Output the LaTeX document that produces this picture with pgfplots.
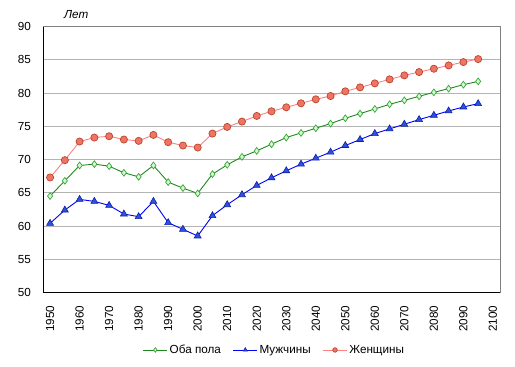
\documentclass[border=0pt]{standalone}
\usepackage{fontspec}
\setmainfont{Liberation Sans}
\usepackage{pgfplots}
\pgfplotsset{compat=1.18}
\definecolor{wline}{HTML}{FF8080}
\definecolor{wfill}{HTML}{F07466}
\definecolor{wedge}{HTML}{B8462A}
\definecolor{bline}{HTML}{1E8A1E}
\definecolor{bfill}{HTML}{CCFFCC}
\definecolor{bedge}{HTML}{3CA03C}
\definecolor{mline}{HTML}{0000FF}
\definecolor{mfill}{HTML}{2E50E0}
\definecolor{medge}{HTML}{10209A}
\definecolor{gridc}{HTML}{B4B4B4}
\begin{document}
\fontsize{11.7bp}{14bp}\selectfont
\begin{tikzpicture}
\path[use as bounding box] (-43bp,-74.5bp) rectangle (472bp,292.5bp);
\begin{axis}[
  name=ax,
  at={(0,0)}, anchor=south west,
  scale only axis, width=457bp, height=266bp,
  xmin=1947.6, xmax=2102.4, ymin=50, ymax=90,
  xtick={1950,1960,...,2100}, ytick={50,55,...,90},
  /pgf/number format/assume math mode=true,
  /pgf/number format/1000 sep={},
  xticklabel style={rotate=90, anchor=east, xshift=-9bp, font=\fontsize{11.7bp}{14bp}\selectfont},
  yticklabel style={xshift=-8bp, font=\fontsize{11.7bp}{14bp}\selectfont},
  major tick length=0pt,
  ymajorgrids, grid style={gridc, line width=0.8pt},
  axis line style={draw=gray, line width=0.8pt},
  legend columns=3,
  legend style={draw=none, fill=none, at={(0.5066,-0.216)}, anchor=center,
    font=\fontsize{11.7bp}{14bp}\selectfont, /tikz/every even column/.append style={column sep=10bp}},
  legend image code/.code={\draw[mark repeat=2,mark phase=2,#1,mark size=2.3pt] plot coordinates {(0cm,0cm)(0.42cm,0cm)(0.84cm,0cm)};},
]
\draw[black, line width=1pt] (rel axis cs:0,0) -- (rel axis cs:0,1);
\draw[black, line width=1pt] (rel axis cs:0,0) -- (rel axis cs:1,0);
\addplot[bline, line width=0.9pt, mark=diamond*, mark size=3.4pt, mark options={fill=bfill, draw=bedge, line width=0.7pt}] coordinates {
(1950,64.5)(1955,66.8)(1960,69.1)(1965,69.3)(1970,69.0)(1975,68.0)(1980,67.4)(1985,69.1)
(1990,66.6)(1995,65.7)(2000,64.9)(2005,67.8)(2010,69.2)(2015,70.4)(2020,71.3)(2025,72.3)
(2030,73.3)(2035,74.0)(2040,74.7)(2045,75.4)(2050,76.2)(2055,76.9)(2060,77.6)(2065,78.3)
(2070,78.9)(2075,79.5)(2080,80.1)(2085,80.65)(2090,81.25)(2095,81.75)};
\addlegendentry{Оба пола}
\addplot[mline, line width=0.9pt, mark=triangle*, mark size=4pt, mark options={fill=mfill, draw=medge, line width=0.6pt}] coordinates {
(1950,60.4)(1955,62.4)(1960,64.0)(1965,63.7)(1970,63.1)(1975,61.8)(1980,61.4)(1985,63.7)
(1990,60.5)(1995,59.5)(2000,58.5)(2005,61.55)(2010,63.2)(2015,64.7)(2020,66.1)(2025,67.25)
(2030,68.3)(2035,69.3)(2040,70.2)(2045,71.1)(2050,72.1)(2055,73.0)(2060,73.9)(2065,74.6)
(2070,75.3)(2075,76.0)(2080,76.65)(2085,77.3)(2090,77.9)(2095,78.4)};
\addlegendentry{Мужчины}
\addplot[wline, line width=0.9pt, mark=*, mark size=3.6pt, mark options={fill=wfill, draw=wedge, line width=0.7pt}] coordinates {
(1950,67.3)(1955,69.9)(1960,72.7)(1965,73.3)(1970,73.5)(1975,73.0)(1980,72.8)(1985,73.7)
(1990,72.6)(1995,72.1)(2000,71.8)(2005,73.9)(2010,74.9)(2015,75.7)(2020,76.55)(2025,77.25)
(2030,77.85)(2035,78.45)(2040,79.05)(2045,79.55)(2050,80.25)(2055,80.85)(2060,81.45)(2065,82.05)
(2070,82.65)(2075,83.15)(2080,83.65)(2085,84.15)(2090,84.65)(2095,85.1)};
\addlegendentry{Женщины}
\end{axis}
\node[anchor=base west, inner sep=0pt, font=\itshape\fontsize{11.7bp}{14bp}\selectfont] at (21bp,273.5bp) {Лет};
\end{tikzpicture}
\end{document}
